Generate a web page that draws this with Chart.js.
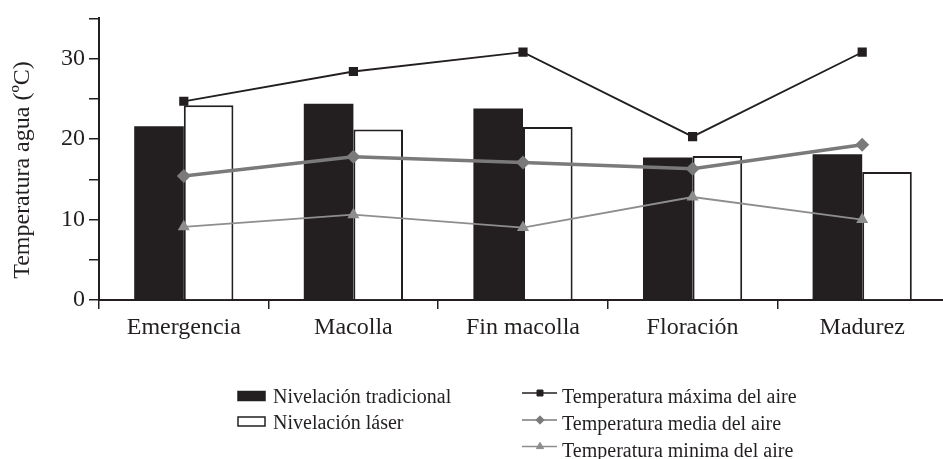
<!DOCTYPE html>
<html>
<head>
<meta charset="utf-8">
<script src="https://cdn.jsdelivr.net/npm/chart.js@4/dist/chart.umd.min.js"></script>
<style>
  html, body { margin: 0; padding: 0; background: #fff; overflow: hidden; }
  #wrap { width: 954px; height: 459px; }
</style>
</head>
<body>
<div id="wrap"><canvas id="c" width="954" height="459"></canvas></div>
<script>
// Etapas del cultivo y temperaturas (°C)
const etapas = ['Emergencia', 'Macolla', 'Fin macolla', 'Floración', 'Madurez'];
const nivelacionTradicional = [21.6, 24.4, 23.8, 17.7, 18.1];
const nivelacionLaser       = [24.2, 21.2, 21.5, 17.9, 15.9];
const tempMaxima = [24.7, 28.4, 30.8, 20.3, 30.8];
const tempMedia  = [15.4, 17.8, 17.1, 16.3, 19.3];
const tempMinima = [9.1, 10.6, 9.0, 12.8, 10.0];
const marcasY = [0, 10, 20, 30];

const tinta = '#231f20';
const gris = '#7a7a7a';
const grisClaro = '#8e8e8e';
const serif = '"Liberation Serif", "Times New Roman", serif';

// Leyenda en dos columnas y título vertical del eje
const extras = {
  id: 'extras',
  afterDraw(chart) {
    const ctx = chart.ctx;
    const ds = chart.data.datasets;
    ctx.save();
    ctx.fillStyle = tinta;
    ctx.font = '24px ' + serif;
    ctx.textAlign = 'center';
    ctx.textBaseline = 'middle';
    ctx.translate(23, 170);
    ctx.rotate(-Math.PI / 2);
    ctx.fillText('Temperatura agua (ºC)', 0, 0);
    ctx.restore();

    ctx.save();
    ctx.font = '20px ' + serif;
    ctx.textAlign = 'left';
    ctx.textBaseline = 'alphabetic';
    // columna izquierda: barras
    const filasBarra = [396, 421.5];
    [0, 1].forEach((i, k) => {
      const y = filasBarra[k];
      ctx.fillStyle = ds[i].backgroundColor;
      ctx.fillRect(238, y - 4.5, 27, 9);
      ctx.strokeStyle = tinta;
      ctx.lineWidth = 1.5;
      ctx.strokeRect(238, y - 4.5, 27, 9);
      ctx.fillStyle = tinta;
      ctx.fillText(ds[i].label, 273, y + 7);
    });
    // columna derecha: líneas
    const filasLinea = [393, 420, 446.5];
    [2, 3, 4].forEach((i, k) => {
      const y = filasLinea[k];
      ctx.strokeStyle = ds[i].borderColor;
      ctx.lineWidth = 1.6;
      ctx.beginPath();
      ctx.moveTo(522, y);
      ctx.lineTo(557, y);
      ctx.stroke();
      ctx.fillStyle = ds[i].pointBackgroundColor;
      ctx.strokeStyle = ds[i].pointBackgroundColor;
      ctx.lineWidth = 1;
      Chart.helpers.drawPoint(ctx, { pointStyle: ds[i].pointStyle, rotation: 0, radius: 4.2, borderWidth: 1 }, 540, y);
      ctx.fillStyle = tinta;
      ctx.fillText(ds[i].label, 562, y + 10);
    });
    ctx.restore();
  }
};

new Chart(document.getElementById('c'), {
  data: {
    labels: etapas,
    datasets: [
      {
        type: 'bar', label: 'Nivelación tradicional', data: nivelacionTradicional,
        backgroundColor: tinta, borderColor: tinta, borderWidth: 0,
        categoryPercentage: 0.585, barPercentage: 1, order: 3
      },
      {
        type: 'bar', label: 'Nivelación láser', data: nivelacionLaser,
        backgroundColor: '#ffffff', borderColor: tinta, borderWidth: 2,
        categoryPercentage: 0.585, barPercentage: 1, order: 3
      },
      {
        type: 'line', label: 'Temperatura máxima del aire', data: tempMaxima,
        borderColor: tinta, borderWidth: 1.8, tension: 0, fill: false,
        pointStyle: 'rect', pointRadius: 6.5, pointBorderWidth: 0,
        pointBackgroundColor: tinta, pointBorderColor: tinta, order: 1
      },
      {
        type: 'line', label: 'Temperatura media del aire', data: tempMedia,
        borderColor: gris, borderWidth: 3.5, tension: 0, fill: false,
        pointStyle: 'rectRot', pointRadius: 7, pointBorderWidth: 0,
        pointBackgroundColor: gris, pointBorderColor: gris, order: 0
      },
      {
        type: 'line', label: 'Temperatura minima del aire', data: tempMinima,
        borderColor: grisClaro, borderWidth: 1.8, tension: 0, fill: false,
        pointStyle: 'triangle', pointRadius: 7, pointBorderWidth: 0,
        pointBackgroundColor: grisClaro, pointBorderColor: grisClaro, order: 2
      }
    ]
  },
  options: {
    responsive: false,
    animation: false,
    events: [],
    layout: { padding: { top: 15, right: 3, bottom: 109, left: 0 } },
    plugins: { legend: { display: false }, tooltip: { enabled: false } },
    scales: {
      x: {
        offset: true,
        grid: { offset: true, drawOnChartArea: false, drawTicks: true, tickLength: 9, color: tinta, lineWidth: 1.5 },
        border: { display: true, color: tinta, width: 2 },
        ticks: { color: tinta, font: { family: serif, size: 24 }, padding: 4, maxRotation: 0, autoSkip: false },
        afterFit(s) { s.height = 50; }
      },
      y: {
        min: 0, max: 35,
        grid: { drawOnChartArea: false, drawTicks: true, tickLength: 10, color: tinta, lineWidth: 1.5 },
        border: { display: true, color: tinta, width: 2 },
        ticks: {
          stepSize: 5, color: tinta, padding: 4,
          font: { family: serif, size: 24 },
          callback: v => (marcasY.includes(v) ? String(v) : '')
        },
        afterFit(s) { s.width = 99; }
      }
    }
  },
  plugins: [extras]
});
</script>
</body>
</html>
